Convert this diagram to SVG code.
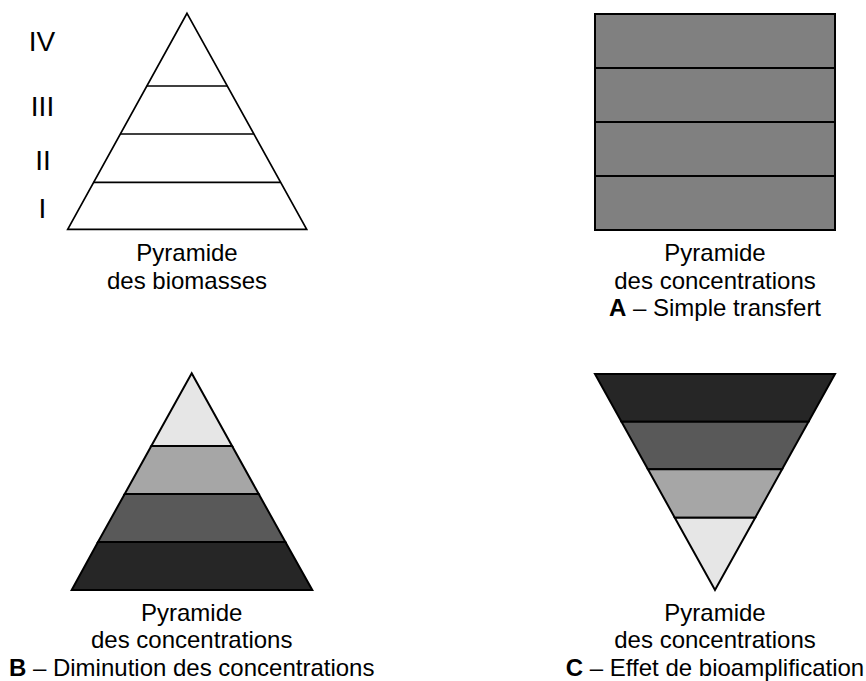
<svg xmlns="http://www.w3.org/2000/svg" width="866" height="681" viewBox="0 0 866 681">
<style>
text{font-family:"Liberation Sans",Arial,sans-serif;fill:#000}
.cap{font-size:24px;text-anchor:middle}
.num{font-size:28px;text-anchor:middle}
.b{font-weight:bold}
.band{stroke:#000;stroke-width:2;stroke-linejoin:miter}
.l1{fill:#e6e6e6}.l2{fill:#a6a6a6}.l3{fill:#595959}.l4{fill:#262626}
.ol{fill:none;stroke:#000;stroke-width:1.7}
</style>
<rect width="866" height="681" fill="#fff"/>
<g id="biomasses">
<polygon class="ol" points="187,13.3 306.7,229.3 67.7,229.3"/>
<line class="ol" x1="146.8" y1="86" x2="227.2" y2="86"/>
<line class="ol" x1="120.2" y1="134" x2="253.8" y2="134"/>
<line class="ol" x1="93.5" y1="182.3" x2="280.5" y2="182.3"/>
<text class="num" x="42" y="51">IV</text>
<text class="num" x="42.5" y="115.7">III</text>
<text class="num" x="43" y="170">II</text>
<text class="num" x="42.5" y="218.3">I</text>
<text class="cap" x="187" y="261">Pyramide</text>
<text class="cap" x="187" y="288.6">des biomasses</text>
</g>
<g id="A">
<rect class="band" x="595" y="14" width="240" height="54" fill="#808080"/>
<rect class="band" x="595" y="68" width="240" height="54" fill="#808080"/>
<rect class="band" x="595" y="122" width="240" height="54" fill="#808080"/>
<rect class="band" x="595" y="176" width="240" height="54" fill="#808080"/>
<text class="cap" x="715" y="261">Pyramide</text>
<text class="cap" x="715" y="288.6">des concentrations</text>
<text class="cap" x="715" y="316.2"><tspan class="b">A</tspan> – Simple transfert</text>
</g>
<g id="B">
<polygon class="band l4" points="98,542 285.4,542 312.3,590 71.7,590"/>
<polygon class="band l3" points="124.7,494 258.7,494 285.4,542 98,542"/>
<polygon class="band l2" points="151.3,446 232.1,446 258.7,494 124.7,494"/>
<polygon class="band l1" points="191.7,373.3 232.1,446 151.3,446"/>
<text class="cap" x="191.7" y="620.7">Pyramide</text>
<text class="cap" x="191.7" y="648.3">des concentrations</text>
<text class="cap" x="191.7" y="676"><tspan class="b">B</tspan> – Diminution des concentrations</text>
</g>
<g id="C">
<polygon class="band l4" points="595,374 835,374 808.5,421.7 621.5,421.7"/>
<polygon class="band l3" points="621.5,421.7 808.5,421.7 782.1,469.3 647.9,469.3"/>
<polygon class="band l2" points="647.9,469.3 782.1,469.3 755.2,517.7 674.8,517.7"/>
<polygon class="band l1" points="674.8,517.7 755.2,517.7 715,590"/>
<text class="cap" x="715" y="620.7">Pyramide</text>
<text class="cap" x="715" y="648.3">des concentrations</text>
<text class="cap" x="715" y="676"><tspan class="b">C</tspan> – Effet de bioamplification</text>
</g>
<g id="connectors"></g>
</svg>
